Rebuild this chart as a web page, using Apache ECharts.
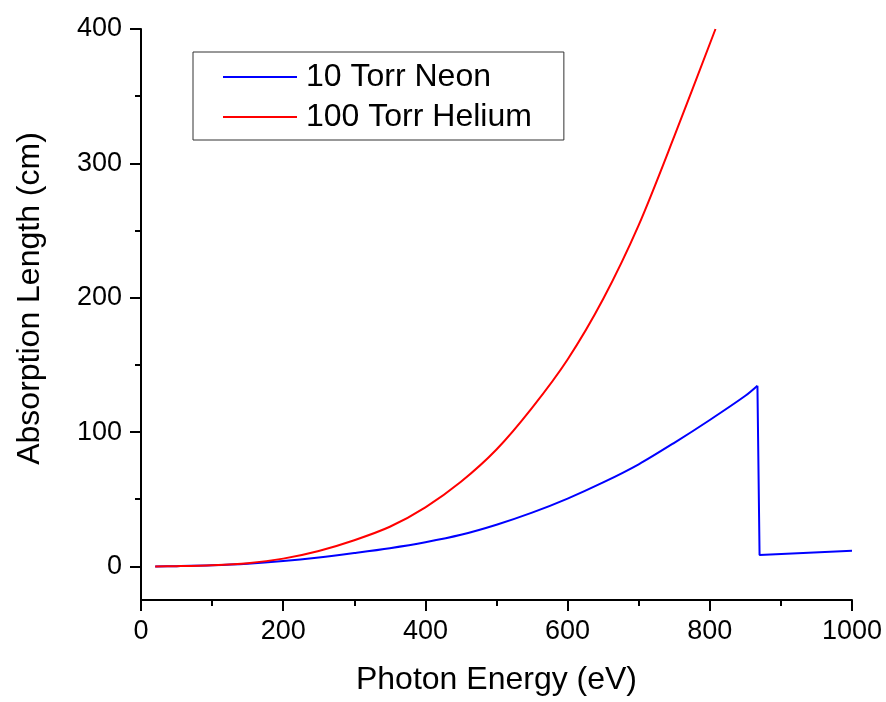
<!DOCTYPE html>
<html>
<head>
<meta charset="utf-8">
<script src="https://cdn.jsdelivr.net/npm/echarts@6/dist/echarts.min.js"></script>
<style>html,body{margin:0;padding:0;background:#fff}#c{width:886px;height:702px}</style>
</head>
<body>
<div id="c"></div>
<script>
// Photon energy (eV) and absorption length (cm)
const neonEnergy = [20, 50, 100, 150, 200, 250, 300, 350, 400, 450, 500, 550, 600, 650, 700, 750, 800, 850, 867, 870, 1000];
const neonLength = [0, 0.2, 0.8, 2.0, 4.0, 6.7, 10, 13.6, 18, 23.5, 31, 40, 50.5, 62.5, 76, 92, 109, 127, 134.5, 8.5, 11.7];
const heliumEnergy = [20, 50, 100, 150, 200, 250, 300, 350, 400, 450, 500, 550, 600, 650, 700, 750, 808];
const heliumLength = [0, 0.2, 0.9, 2.4, 5.8, 11.5, 19.5, 29.5, 44, 63, 87, 118, 154, 199, 254, 320, 400];
const seriesNames = ['10 Torr Neon', '100 Torr Helium'];
const yMajorTicks = [0, 100, 200, 300, 400];
const yMinorTicks = [50, 150, 250, 350];

const FONT = "'Liberation Sans', Arial, sans-serif";
const pair = (xs, ys) => xs.map((x, i) => [x, ys[i]]);
const neonAll = pair(neonEnergy, neonLength);
const edgeIdx = neonEnergy.indexOf(867);   // K-edge: smooth part up to here, straight after
const neonBelowEdge = neonAll.slice(0, edgeIdx + 1);
const neonAboveEdge = neonAll.slice(edgeIdx);

const chart = echarts.init(document.getElementById('c'), null, {renderer: 'canvas'});
chart.setOption({
  animation: false,
  backgroundColor: '#fff',
  grid: {left: 141, right: 34, top: 29, bottom: 102, containLabel: false},
  legend: {
    orient: 'vertical',
    left: 193, top: 52,
    padding: [9, 32, 7, 30],
    itemGap: 8,
    itemWidth: 74, itemHeight: 2,
    icon: 'rect',
    borderColor: '#333', borderWidth: 1,
    textStyle: {fontFamily: FONT, fontSize: 32, color: '#000', lineHeight: 32, padding: [0, 0, 0, 4]},
    data: seriesNames
  },
  xAxis: {
    type: 'value', min: 0, max: 1000, interval: 200,
    name: 'Photon Energy (eV)', nameLocation: 'middle', nameGap: 64,
    nameTextStyle: {fontFamily: FONT, fontSize: 32, color: '#000'},
    axisLine: {show: true, onZero: false, lineStyle: {color: '#000', width: 2}},
    axisTick: {show: true, length: 11, lineStyle: {color: '#000', width: 2}},
    minorTick: {show: true, splitNumber: 2, length: 6, lineStyle: {color: '#000', width: 2}},
    axisLabel: {fontFamily: FONT, fontSize: 27, color: '#000', margin: 18, formatter: v => String(v)},
    splitLine: {show: false}, minorSplitLine: {show: false}
  },
  yAxis: [{
    type: 'value', min: -25, max: 400, position: 'left',
    name: 'Absorption Length (cm)', nameLocation: 'middle', nameGap: 95,
    nameTextStyle: {fontFamily: FONT, fontSize: 32, color: '#000', padding: [0, 0, 0, 32]},
    axisLine: {show: true, onZero: false, lineStyle: {color: '#000', width: 2}},
    axisTick: {show: true, length: 11, customValues: yMajorTicks, lineStyle: {color: '#000', width: 2}},
    axisLabel: {fontFamily: FONT, fontSize: 27, color: '#000', margin: 19, customValues: yMajorTicks, formatter: v => String(v)},
    splitLine: {show: false}
  }, {
    type: 'value', min: -25, max: 400, position: 'left', offset: 0,
    axisLine: {show: false},
    axisTick: {show: true, length: 6, customValues: yMinorTicks, lineStyle: {color: '#000', width: 2}},
    axisLabel: {show: false},
    splitLine: {show: false}
  }],
  series: [{
    name: seriesNames[0], type: 'line', showSymbol: false, symbol: 'none',
    color: '#0000ff', lineStyle: {color: '#0000ff', width: 2},
    data: neonBelowEdge, smooth: 0.3, z: 2
  }, {
    name: seriesNames[0], type: 'line', showSymbol: false, symbol: 'none',
    color: '#0000ff', lineStyle: {color: '#0000ff', width: 2},
    data: neonAboveEdge, smooth: false, z: 2
  }, {
    name: seriesNames[1], type: 'line', showSymbol: false, symbol: 'none',
    color: '#ff0000', lineStyle: {color: '#ff0000', width: 2},
    data: pair(heliumEnergy, heliumLength), smooth: 0.3, z: 3
  }]
});
</script>
</body>
</html>
